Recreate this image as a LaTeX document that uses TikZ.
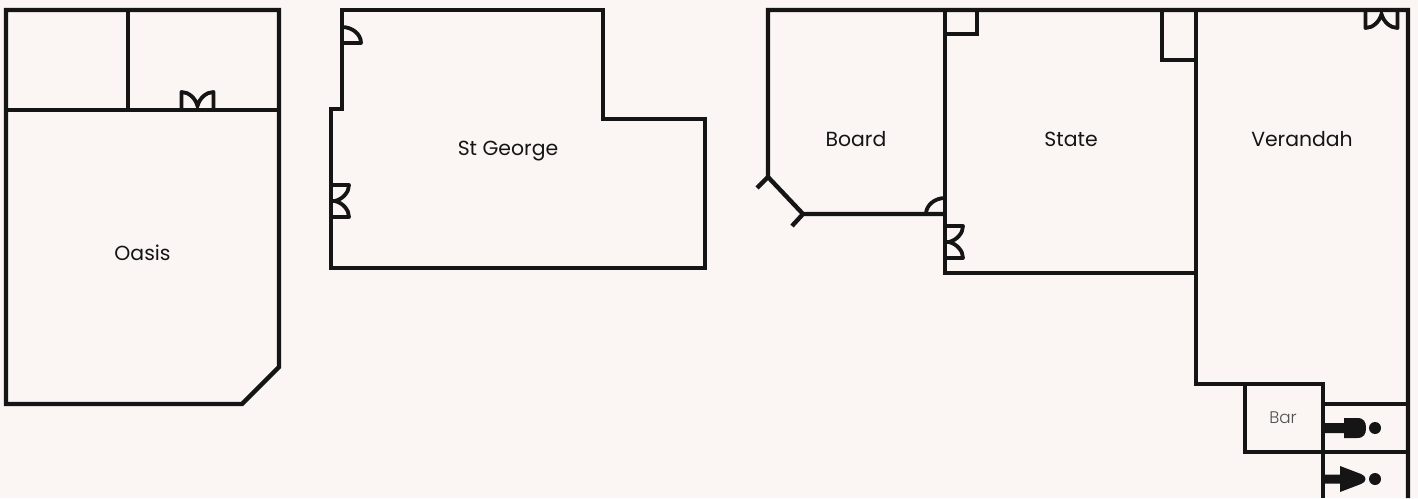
\documentclass[tikz,border=0pt]{standalone}
\usepackage{fontspec}
\setmainfont{Poppins}
\newfontfamily\barfont{Poppins Light}
\definecolor{paper}{HTML}{FBF6F3}
\definecolor{ink}{HTML}{141514}
\tikzset{
    wall/.style={
        draw=ink, line width=2.2pt, line join=miter
    },
    room/.style={
        text=ink, font=\fontsize{10.2}{12}\selectfont
    },
    smallroom/.style={
        text=ink!75, font=\barfont\fontsize{8.4}{10}\selectfont
    },
    doubledoor/.pic={
        % Leaves
        \draw[wall, line width=1.9pt, line join=round] (0,-16) -- (18,-16) .. controls (18,-9) and (12,-2) .. (4,0) .. controls (12,2) and (18,9) .. (18,16) -- (0,16);
        \draw[wall, line width=1.9pt] (0,0) -- (4,0);
    },
    singledoor/.pic={
        % Leaf
        \draw[wall, line width=1.9pt, line join=round] (0,0) -- (19,0) .. controls (19,-9) and (10,-16) .. (0,-16);
    },
    gents/.pic={
        \fill[ink] (0,-5) -- (21,-5) -- (21,-10) -- (34,-10) .. controls (41,-10) and (43,-6) .. (43,0) .. controls (43,6) and (41,10) .. (34,10) -- (21,10) -- (21,5) -- (0,5) -- cycle;
        \fill[ink] (52,0) circle (6);
    },
    ladies/.pic={
        \fill[ink] (0,-4.5) -- (17,-4.5) -- (17,-13) -- (38,-5) .. controls (44,-3) and (44,3) .. (38,5) -- (17,13) -- (17,4.5) -- (0,4.5) -- cycle;
        \fill[ink] (52,0) circle (6);
    }
}
\begin{document}
\begin{tikzpicture}[x=0.5pt, y=-0.5pt]
    \fill[paper] (0,0) rectangle (1418,498);
    \useasboundingbox (0,0) rectangle (1418,498);

    % Oasis
    \draw[wall] (6,10) -- (279,10) -- (279,367) -- (242,404) -- (6,404) -- cycle;
    \draw[wall] (6,110) -- (279,110);
    \draw[wall] (128,10) -- (128,110);
    \pic[rotate=90] at (197.5,110) {doubledoor};

    % St George
    \draw[wall] (342,10) -- (603,10) -- (603,119) -- (705,119) -- (705,268) -- (331,268) -- (331,109) -- (342,109) -- cycle;
    \pic at (342,43) {singledoor};
    \pic at (331,201) {doubledoor};

    % Board, State and Verandah
    \draw[wall] (1408,498) -- (1408,10) -- (768,10) -- (768,177) -- (803,214) -- (945,214);
    \draw[wall] (768,177) -- (757,188);
    \draw[wall] (803,214) -- (792,226);
    \draw[wall] (945,10) -- (945,273) -- (1196,273);
    \draw[wall] (1196,10) -- (1196,384) -- (1323,384) -- (1323,498);
    \draw[wall] (945,34) -- (977,34) -- (977,10);
    \draw[wall] (1162,10) -- (1162,60) -- (1196,60);
    \pic[xscale=-1] at (945,214) {singledoor};
    \pic at (945,242) {doubledoor};
    \pic[rotate=-90] at (1381.5,10) {doubledoor};

    % Bar and toilets
    \draw[wall] (1245,384) -- (1245,452) -- (1408,452);
    \draw[wall] (1323,404) -- (1408,404);
    \pic at (1323,428) {gents};
    \pic at (1323,479) {ladies};

    % Nodes
    \node (oasis) [room] at (142.5,252.5) {Oasis};
    \node (stgeorge) [room] at (508,151.5) {St George};
    \node (board) [room] at (856,139.5) {Board};
    \node (state) [room] at (1071,139.5) {State};
    \node (verandah) [room] at (1302,139.5) {Verandah};
    \node (bar) [smallroom] at (1283,418) {Bar};
\end{tikzpicture}
\end{document}
